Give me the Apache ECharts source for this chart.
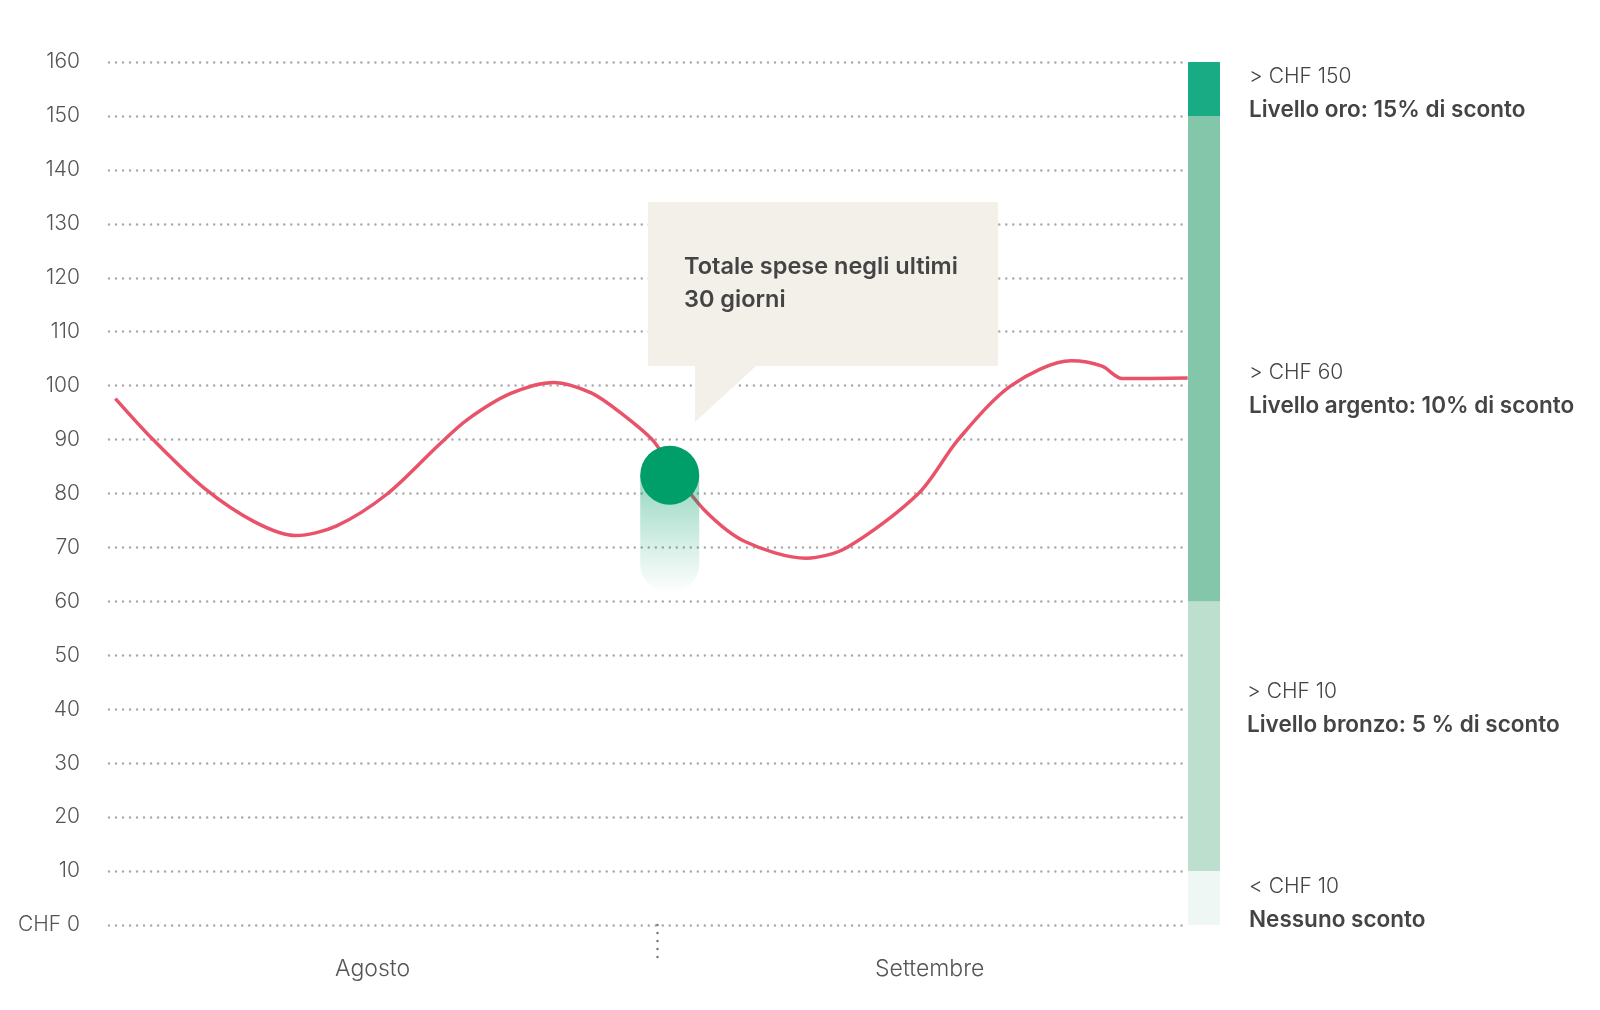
<!DOCTYPE html>
<html>
<head>
<meta charset="utf-8">
<script src="https://cdn.jsdelivr.net/npm/echarts@6/dist/echarts.min.js"></script>
<style>
html,body{margin:0;padding:0;background:#fff;}
#chart{width:1600px;height:1010px;}
</style>
</head>
<body>
<div id="chart"></div>
<script>
// ---- data ----
const days  = [0.36, 2.49, 5.38, 8.26, 10.57, 12.87, 15.76, 18.64, 20.26, 22.68, 25.16, 27.29, 29.02, 30.76, 31.74, 33.64, 35.95, 39.41, 41.72, 45.76, 48.01, 51.0, 54.41, 56.14, 57.29, 60.98];
const spend = [97.6, 90, 81, 74.7, 72.2, 74, 80, 89, 93.7, 98.5, 100.6, 98.6, 94.7, 89.8, 85, 77, 71.1, 68, 70, 80, 90, 100, 104.6, 103.6, 101.3, 101.4];
const currentDay = [31.7];
const currentValue = [83.4];
const tailBottom = [61.5];
const monthLabels = ['Agosto', 'Settembre'];
const monthCenters = [14.9, 46.4];
const monthBreak = [31];
const tierBounds = [0, 10, 60, 150, 160];
const tierRanges = ['> CHF 150', '> CHF 60', '> CHF 10', '< CHF 10'];
const tierNames = ['Livello oro: 15% di sconto', 'Livello argento: 10% di sconto', 'Livello bronzo: 5 % di sconto', 'Nessuno sconto'];
const calloutLines = ['Totale spese negli ultimi', '30 giorni'];

const FONT = 'Inter, "Noto Sans", sans-serif';
const tierColors = ['#eef7f3', '#bde0ce', '#84c6aa', '#19ab84'];

const chart = echarts.init(document.getElementById('chart'), null, {renderer: 'canvas'});

const lineData = days.map((d, i) => [d, spend[i]]);
const tierSeries = [];
for (let i = 0; i < tierBounds.length - 1; i++) {
  tierSeries.push({
    type: 'bar', xAxisIndex: 1, yAxisIndex: 1, stack: 'tiers',
    data: [tierBounds[i + 1] - tierBounds[i]],
    barWidth: '100%', silent: true,
    itemStyle: {color: tierColors[i]}
  });
}

const tierTextY = [[76.7, 110], [372.5, 406], [692, 725.5], [886.7, 920]];
const tierTextX = [1249, 1249, 1247, 1249];
const graphics = [];
tierRanges.forEach((r, i) => {
  graphics.push({type: 'text', x: tierTextX[i], y: tierTextY[i][0], style: {text: r, font: '300 21px ' + FONT, fill: '#444', verticalAlign: 'middle'}});
  graphics.push({type: 'text', x: tierTextX[i], y: tierTextY[i][1], style: {text: tierNames[i], font: '600 22.5px ' + FONT, fill: '#444', verticalAlign: 'middle'}});
});
graphics.push({type: 'rect', shape: {x: 648, y: 202, width: 350, height: 164}, style: {fill: '#f3f0e9'}, z: 10});
graphics.push({type: 'polygon', shape: {points: [[695, 365], [757, 365], [695, 422]]}, style: {fill: '#f3f0e9'}, z: 10});
calloutLines.forEach((t, i) => {
  graphics.push({type: 'text', x: 684, y: 266.7 + i * 33.3, style: {text: t, font: '600 23.5px ' + FONT, fill: '#444', verticalAlign: 'middle'}, z: 11});
});

const option = {
  animation: false,
  backgroundColor: '#fff',
  grid: [
    {left: 109, right: 412, top: 62, bottom: 85},
    {left: 1188, width: 32, top: 62, bottom: 85}
  ],
  xAxis: [
    {
      type: 'value', min: 0, max: 61, gridIndex: 0,
      axisLine: {show: false},
      splitLine: {show: false},
      axisTick: {show: true, customValues: monthBreak, length: 40, inside: false,
        lineStyle: {color: '#777', width: 2.5, type: [0.01, 8], cap: 'round'}},
      axisLabel: {customValues: monthCenters, margin: 33, fontSize: 23, fontWeight: 300, color: '#555', fontFamily: FONT,
        formatter: v => monthLabels[monthCenters.indexOf(v)] || ''}
    },
    {type: 'category', gridIndex: 1, data: ['t'], show: false}
  ],
  yAxis: [
    {
      type: 'value', min: 0, max: 160, interval: 10, gridIndex: 0,
      axisLine: {show: false}, axisTick: {show: false},
      axisLabel: {margin: 29, fontSize: 21, fontWeight: 300, color: '#555', fontFamily: FONT,
        formatter: v => v === 0 ? 'CHF 0' : String(v)},
      splitLine: {show: true, lineStyle: {color: '#aaa', width: 2.5, type: [0.01, 7], cap: 'round'}}
    },
    {type: 'value', min: 0, max: 160, gridIndex: 1, show: false, splitLine: {show: false}}
  ],
  series: [
    {
      type: 'line', data: lineData, smooth: 0.3, showSymbol: false, z: 2,
      lineStyle: {color: '#e8536a', width: 3.5}
    },
    {
      type: 'custom', z: 3, silent: true,
      data: currentDay.map((d, i) => [d, currentValue[i], tailBottom[i]]),
      renderItem: function (params, api) {
        const top = api.coord([api.value(0), api.value(1)]);
        const bot = api.coord([api.value(0), api.value(2)]);
        const w = 59;
        return {
          type: 'rect',
          shape: {x: top[0] - w / 2, y: top[1], width: w, height: bot[1] - top[1], r: [0, 0, w / 2, w / 2]},
          style: {fill: new echarts.graphic.LinearGradient(0, 0, 0, 1, [
            {offset: 0, color: 'rgba(0,158,105,0.42)'},
            {offset: 0.55, color: 'rgba(0,158,105,0.18)'},
            {offset: 1, color: 'rgba(0,158,105,0)'}
          ])}
        };
      }
    },
    {
      type: 'scatter', z: 4, silent: true,
      data: currentDay.map((d, i) => [d, currentValue[i]]),
      symbolSize: 59, itemStyle: {color: '#009e69', opacity: 1}
    }
  ].concat(tierSeries),
  graphic: graphics
};
chart.setOption(option);
</script>
</body>
</html>
